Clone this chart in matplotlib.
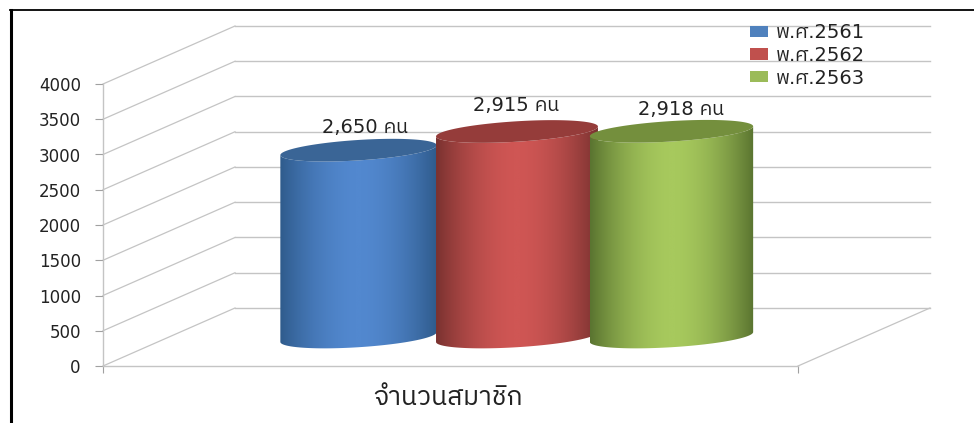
import numpy as np
import matplotlib
matplotlib.use('Agg')
import matplotlib.pyplot as plt
from matplotlib.colors import LinearSegmentedColormap
from matplotlib.lines import Line2D
from matplotlib.patches import Patch, Polygon
from matplotlib import font_manager as fm
from matplotlib.ft2font import FT2Font

# data
years = ['พ.ศ.2561', 'พ.ศ.2562', 'พ.ศ.2563']
members = [2650, 2915, 2918]
value_labels = ['2,650 คน', '2,915 คน', '2,918 คน']
category = 'จำนวนสมาชิก'
y_ticks = [0, 500, 1000, 1500, 2000, 2500, 3000, 3500, 4000]

# colours: dark edge, bright middle, top of the cylinder
side_dark = ['#2f5b8c', '#7a3230', '#5a7430']
side_light = ['#5288cf', '#cf5654', '#a7c95d']
top_cols = ['#3a6596', '#953c3a', '#748f3d']
legend_cols = ['#4f81bd', '#c0504d', '#9bbb59']
grid_col = '#c4c4c4'

# layout of the cylinders on the floor
bar_x = [0.2727, 0.5007, 0.7230]
bar_w = [0.225, 0.233, 0.235]
label_dx = [0.009, -0.001, 0.014]
label_dy = [326, 369, 312]

# find a font that really has Thai
thai_font = None
for f in fm.fontManager.ttflist:
    try:
        if 0x0E04 in FT2Font(f.fname).get_charmap():
            thai_font = f.name
            if 'Sans' in f.name:
                break
    except Exception:
        pass
plt.rcParams['font.family'] = ['DejaVu Sans'] + ([thai_font] if thai_font else [])

W, H = 974, 423
fig = plt.figure(figsize=(W / 100, H / 100), dpi=100)
ax = fig.add_axes([103 / W, (H - 366) / H, 695 / W, 282 / H])
ax.patch.set_visible(False)

# depth of the fake 3d box, in data units
dx = 132 / 695
dy = 58 / 282 * 4000

for t in y_ticks:
    ax.plot([dx, 1 + dx], [t + dy, t + dy], color=grid_col, lw=1, clip_on=False, zorder=1)
    ax.plot([0, dx], [t, t + dy], color=grid_col, lw=0.9, clip_on=False, zorder=1)
ax.plot([1, 1 + dx], [0, dy], color=grid_col, lw=0.9, clip_on=False, zorder=1)

ax.set_yticks(y_ticks)
ax.set_xticks([0, 1])
ax.set_xticklabels([])
ax.tick_params(axis='y', labelsize=12, length=6, width=0.8, color='#a0a0a0', pad=10, labelcolor='#222222')
ax.tick_params(axis='x', length=5, width=0.8, color='#a0a0a0')
for s in ['top', 'right']:
    ax.spines[s].set_visible(False)
for s in ['left', 'bottom']:
    ax.spines[s].set_color(grid_col)
    ax.spines[s].set_linewidth(1)

# cylinders
b = 145   # half height of the ellipse in y units
tilt = 70  # ellipse leans up to the right
t = np.linspace(0, 2 * np.pi, 121)
lo = np.linspace(np.pi, 2 * np.pi, 61)
shade = np.abs(np.linspace(-1, 1, 256)).reshape(1, -1) ** 1.8  # 0 in the middle, 1 at the edges
for i, v in enumerate(members):
    cx = bar_x[i] + dx / 2
    base = dy / 2
    a = bar_w[i] / 2

    # side: lower half of base ellipse, then lower half of top ellipse back
    sx = cx + a * np.cos(lo)
    sy = b * np.sin(lo) + tilt * np.cos(lo)
    side_xy = np.vstack([np.column_stack([sx, sy + base]),
                         np.column_stack([sx[::-1], sy[::-1] + base + v])])
    side_path = Polygon(side_xy, closed=True, transform=ax.transData, fill=False, edgecolor='none', clip_on=False)
    ax.add_patch(side_path)

    cmap = LinearSegmentedColormap.from_list('c', [side_light[i], side_dark[i]])
    im = ax.imshow(shade, cmap=cmap, vmin=0, vmax=1, aspect='auto',
                   extent=[cx - a, cx + a, base - b - tilt, base + v + b + tilt],
                   zorder=3 + i, interpolation='bilinear')
    im.set_clip_path(side_path)

    ax.add_patch(Polygon(np.column_stack([cx + a * np.cos(t), b * np.sin(t) + tilt * np.cos(t) + base + v]),
                         closed=True, facecolor=top_cols[i], edgecolor='none', zorder=3 + i, clip_on=False))
    ax.text(cx + label_dx[i], base + v + label_dy[i], value_labels[i], ha='center', va='center',
            fontsize=14, color='#222222', zorder=2, clip_on=False)

ax.set_xlim(0, 1)
ax.set_ylim(0, 4000)
ax.text(0.497, -0.113, category, transform=ax.transAxes, ha='center', va='center', fontsize=19, color='#222222')

# legend
handles = [Patch(facecolor=c, edgecolor='none') for c in legend_cols]
fig.legend(handles, years, loc='upper left', bbox_to_anchor=(750 / W, 1 - 23 / H), frameon=False,
           fontsize=14, handlelength=0.95, handleheight=0.5, handletextpad=0.4, labelspacing=0.2,
           borderpad=0, borderaxespad=0, labelcolor='#222222')

# black frame of the picture
fig.add_artist(Line2D([11 / W, 11 / W], [0, 1 - 10 / H], color='black', lw=2.2, transform=fig.transFigure))
fig.add_artist(Line2D([10 / W, 1], [1 - 10.5 / H, 1 - 10.5 / H], color='black', lw=1.3, transform=fig.transFigure))

fig.savefig('out.png', dpi=100)
